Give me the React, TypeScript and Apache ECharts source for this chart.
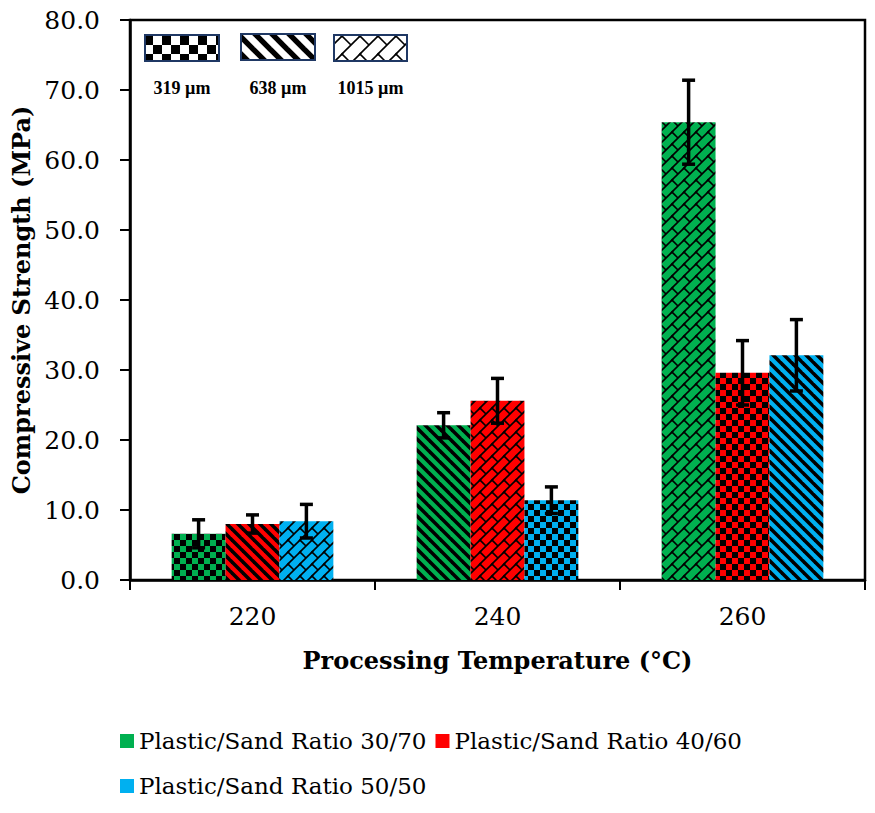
import { useEffect, useRef } from 'react'
import * as echarts from 'echarts'

// temperature groups on the x axis
const temperatures = ['220', '240', '260']

// compressive strength (MPa) and error (±) per plastic/sand ratio
const ratio3070 = [6.6, 22.1, 65.4]
const err3070 = [2.0, 1.8, 6.0]
const ratio4060 = [8.0, 25.6, 29.6]
const err4060 = [1.3, 3.2, 4.6]
const ratio5050 = [8.4, 11.4, 32.1]
const err5050 = [2.4, 1.9, 5.1]

// sand particle size used for each bar (shown as fill pattern)
const size3070 = ['319', '638', '1015']
const size4060 = ['638', '1015', '319']
const size5050 = ['1015', '319', '638']

const seriesNames = ['Plastic/Sand Ratio 30/70', 'Plastic/Sand Ratio 40/60', 'Plastic/Sand Ratio 50/50']
const seriesColors = ['#00B050', '#FF0000', '#00B0F0']
const particleSizes = ['319', '638', '1015']

const yTicks = { min: 0, max: 80, interval: 10 }

const FONT = "'DejaVu Serif', serif"

type Kind = '319' | '638' | '1015'

function makeTile(kind: Kind, color: string, scale = 1) {
  const base = kind === '319' ? 12 : kind === '638' ? 11 : 12
  const s = Math.round(base * scale)
  const c = document.createElement('canvas')
  c.width = s
  c.height = s
  const ctx = c.getContext('2d')!
  ctx.fillStyle = color
  ctx.fillRect(0, 0, s, s)
  ctx.fillStyle = '#000'
  ctx.strokeStyle = '#000'
  if (kind === '319') {
    const h = s / 2
    ctx.fillRect(0, 0, h, h)
    ctx.fillRect(h, h, h, h)
  } else if (kind === '638') {
    ctx.lineWidth = s * 0.32
    for (const k of [-1, 0, 1]) {
      ctx.beginPath()
      ctx.moveTo(k * s - s, -s)
      ctx.lineTo(k * s + 2 * s, 2 * s)
      ctx.stroke()
    }
  } else {
    ctx.lineWidth = 1.6
    for (const ox of [-1, 0, 1]) {
      for (const oy of [-1, 0, 1]) {
        const dx = ox * s
        const dy = oy * s
        ctx.beginPath()
        ctx.moveTo(dx - 1, dy + s + 1)
        ctx.lineTo(dx + s + 1, dy - 1)
        ctx.stroke()
        ctx.beginPath()
        ctx.moveTo(dx, dy)
        ctx.lineTo(dx + s / 2, dy + s / 2)
        ctx.stroke()
      }
    }
  }
  return { image: c, repeat: 'repeat', imageWidth: s, imageHeight: s }
}

export default function App() {
  const chartRef = useRef<HTMLDivElement>(null)

  useEffect(() => {
    if (!chartRef.current) return
    document.body.style.margin = '0'

    const chart = echarts.init(chartRef.current, null, { renderer: 'svg' })

    const values = [ratio3070, ratio4060, ratio5050]
    const errors = [err3070, err4060, err5050]
    const sizes = [size3070, size4060, size5050]

    const barSeries = values.map((vals, i) => ({
      name: seriesNames[i],
      type: 'bar',
      barWidth: '22%',
      barGap: '0%',
      itemStyle: { color: seriesColors[i] },
      data: vals.map((v, j) => ({
        value: v,
        itemStyle: { color: makeTile(sizes[i][j] as Kind, seriesColors[i]) },
      })),
    }))

    const errData: number[][] = []
    values.forEach((vals, i) => {
      vals.forEach((v, j) => {
        errData.push([j, v - errors[i][j], v + errors[i][j], i])
      })
    })

    const legendBoxes = [
      { x: 145, y: 35, w: 74, h: 26 },
      { x: 241, y: 34, w: 74, h: 26 },
      { x: 334, y: 35, w: 73, h: 26 },
    ]

    const graphics: any[] = []
    particleSizes.forEach((sz, i) => {
      const b = legendBoxes[i]
      graphics.push({
        type: 'rect',
        shape: { x: b.x, y: b.y, width: b.w, height: b.h },
        style: { fill: makeTile(sz as Kind, '#ffffff', 1.5), stroke: '#1F3864', lineWidth: 2 },
        z: 10,
      })
      graphics.push({
        type: 'text',
        x: b.x + b.w / 2,
        y: 88,
        style: {
          text: sz + ' µm',
          fill: '#000',
          font: "bold 18px 'Liberation Serif', serif",
          align: 'center',
          verticalAlign: 'middle',
        },
        z: 10,
      })
    })

    const option = {
      animation: false,
      backgroundColor: '#ffffff',
      grid: {
        left: 130,
        right: 10,
        top: 20,
        bottom: 233,
        show: true,
        borderColor: '#000',
        borderWidth: 2.5,
      },
      legend: {
        data: seriesNames,
        left: 120,
        top: 723,
        width: 680,
        padding: 0,
        itemWidth: 14,
        itemHeight: 14,
        itemGap: 9,
        icon: 'rect',
        textStyle: { fontFamily: FONT, fontSize: 23, color: '#000', lineHeight: 36 },
      },
      xAxis: {
        type: 'category',
        data: temperatures,
        name: 'Processing Temperature (°C)',
        nameLocation: 'middle',
        nameGap: 68,
        nameTextStyle: { fontFamily: FONT, fontSize: 24, fontWeight: 'bold', color: '#000' },
        axisLine: { lineStyle: { color: '#000', width: 2.5 } },
        axisTick: { show: true, length: 10, lineStyle: { color: '#000', width: 2 } },
        axisLabel: { fontFamily: FONT, fontSize: 25, color: '#000', margin: 24 },
      },
      yAxis: {
        type: 'value',
        min: yTicks.min,
        max: yTicks.max,
        interval: yTicks.interval,
        name: 'Compressive Strength (MPa)',
        nameLocation: 'middle',
        nameGap: 90,
        nameTextStyle: { fontFamily: FONT, fontSize: 24, fontWeight: 'bold', color: '#000' },
        axisLine: { show: true, lineStyle: { color: '#000', width: 2.5 } },
        axisTick: { show: true, length: 10, lineStyle: { color: '#000', width: 2 } },
        axisLabel: {
          fontFamily: FONT,
          fontSize: 25,
          color: '#000',
          margin: 30,
          formatter: (v: number) => v.toFixed(1),
        },
        splitLine: { show: false },
      },
      graphic: graphics,
      series: [
        ...barSeries,
        {
          name: 'error',
          type: 'custom',
          z: 5,
          data: errData,
          encode: { x: 0, y: [1, 2] },
          renderItem: (_params: any, api: any) => {
            const cat = api.value(0)
            const lo = api.value(1)
            const hi = api.value(2)
            const k = api.value(3)
            const band = api.size([1, 0])[0]
            const bw = band * 0.22
            const x = api.coord([cat, 0])[0] + (k - 1) * bw
            const yLo = api.coord([cat, lo])[1]
            const yHi = api.coord([cat, hi])[1]
            const cap = 6.5
            const style = { stroke: '#000', lineWidth: 3.5 }
            return {
              type: 'group',
              children: [
                { type: 'line', shape: { x1: x, y1: yLo, x2: x, y2: yHi }, style },
                { type: 'line', shape: { x1: x - cap, y1: yHi, x2: x + cap, y2: yHi }, style },
                { type: 'line', shape: { x1: x - cap, y1: yLo, x2: x + cap, y2: yLo }, style },
              ],
            }
          },
        },
      ],
    }

    chart.setOption(option as any)

    return () => {
      chart.dispose()
    }
  }, [])

  return <div ref={chartRef} style={{ width: '875px', height: '813px' }} />
}
